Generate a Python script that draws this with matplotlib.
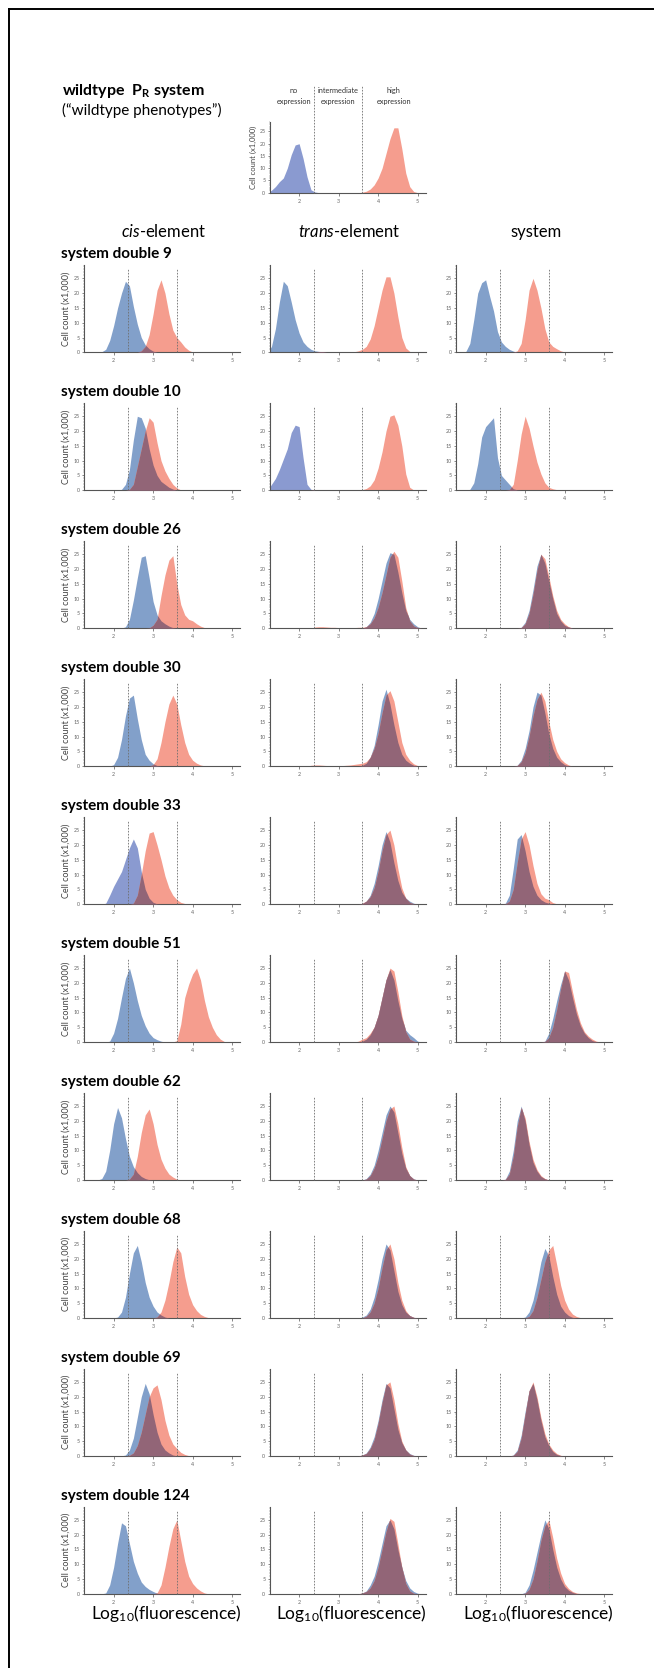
import numpy as np
import matplotlib
matplotlib.use("Agg")
import matplotlib.pyplot as plt
from matplotlib.lines import Line2D
from matplotlib.ticker import MultipleLocator

plt.rcParams['font.family'] = ['Lato', 'DejaVu Sans']
plt.rcParams['mathtext.fontset'] = 'custom'
plt.rcParams['mathtext.rm'] = 'Lato'
plt.rcParams['mathtext.it'] = 'Lato:italic'
plt.rcParams['mathtext.bf'] = 'Lato:bold'

# ---------------------------------------------------------------------------
# Data: cell counts (x1,000) per 0.1-wide log10(fluorescence) bin.
# Each entry is (centre of first bin, [counts ...]).
# ---------------------------------------------------------------------------
row_labels = ["system double 9", "system double 10", "system double 26",
              "system double 30", "system double 33", "system double 51",
              "system double 62", "system double 68", "system double 69",
              "system double 124"]
column_titles = [r"$\mathit{cis}$-element", r"$\mathit{trans}$-element", "system"]
x_ticks = [2, 3, 4, 5]
y_ticks = [0, 5, 10, 15, 20, 25]
boundaries = [2.37, 3.6]
expression_classes = [("no", "expression", 1.86),
                      ("intermediate", "expression", 2.98),
                      ("high", "expression", 4.4)]

wt_blue = (1.3, [1, 2.5, 4.5, 6, 10, 15.5, 19.5, 20, 14, 6.5, 1.2, 0.3])
wt_red = (3.6, [0.2, 0.6, 1.5, 3.2, 6, 10, 16, 22, 26.5, 26.5, 18, 8, 2.5, 0.5])

cis_blue = [
    (1.7, [0.2, 1, 4, 9, 15, 20, 24, 22.5, 15.5, 9.5, 5, 2.5, 1.2, 0.4]),
    (2.2, [0.3, 2, 7, 17, 25, 24.5, 21, 14, 8.5, 5, 3, 2, 1, 0.4]),
    (2.3, [0.5, 3, 9.5, 17, 24, 24.5, 17, 9, 4.5, 2.5, 1.5, 0.7, 0.2]),
    (2.0, [0.5, 3, 9, 17, 23, 24, 16, 9, 4, 2, 0.8, 0.2]),
    (1.8, [0.3, 3, 6, 8.5, 11, 15, 19, 22, 19, 11, 5, 2, 0.6, 0.1]),
    (1.9, [0.3, 3, 8, 15, 21.5, 25, 20, 14, 9, 5.5, 3, 1.5, 0.8, 0.3]),
    (1.7, [0.5, 3, 10, 19, 24.5, 21, 14, 8, 4.5, 2.5, 1.2, 0.5, 0.1]),
    (2.1, [0.3, 2, 7, 15, 22, 24.5, 19, 12, 7, 4, 2, 1, 0.3]),
    (2.3, [0.3, 2, 6, 13, 20, 24.5, 21, 14, 8, 4, 2, 1, 0.3]),
    (1.8, [0.3, 3, 9, 17, 24, 23, 17, 11, 7, 4, 2.5, 1.5, 0.8, 0.2]),
]
cis_red = [
    (2.7, [0.5, 2, 6, 13, 21, 24.5, 20, 13, 7.5, 5, 3.5, 1.8, 0.7, 0.1]),
    (2.4, [0.3, 2, 8, 14, 20, 24.5, 23, 16, 10, 6.5, 4, 2, 0.8, 0.1]),
    (2.9, [0.1, 1, 3, 11, 18, 23, 24.5, 15, 8, 4.5, 3, 2.5, 1.5, 0.7, 0.2]),
    (3.0, [0.5, 2.5, 8, 15, 21, 24, 21, 14, 8, 4, 2, 1, 0.4, 0.1]),
    (2.5, [0.3, 3, 10, 18, 24, 24.5, 20, 15, 9.5, 5.5, 3, 1.5, 0.6, 0.2]),
    (3.6, [0.5, 6, 15, 19.5, 23, 25, 21, 14, 8.5, 5, 2.5, 1, 0.2]),
    (2.4, [0.3, 2, 8, 16, 22, 24, 19, 12, 7, 4, 2, 1, 0.3]),
    (3.1, [0.3, 2, 6, 12, 19, 24, 22, 14, 8, 4.5, 2.5, 1.2, 0.5, 0.1]),
    (2.4, [0.2, 1, 3.5, 8, 14, 20, 23, 24, 19, 12, 7, 4, 2.5, 1.2, 0.5, 0.1]),
    (3.1, [0.3, 3, 9, 16, 22, 25, 18, 11, 6, 3.5, 2, 1, 0.3]),
]
trans_blue = [
    (1.3, [2, 8, 17, 24, 22.5, 17, 11, 6.5, 3.5, 2, 1, 0.5, 0.3, 0.2]),
    (1.3, [2, 4, 7, 10.5, 14, 19.5, 22, 21.5, 11, 2, 0.3]),
    (3.7, [0.5, 2, 5, 10, 16, 22, 25.5, 25, 19, 12, 6, 3, 1.5, 0.5]),
    (3.6, [0.3, 1, 3, 7, 14, 22, 26, 21, 14, 8, 4, 2, 1, 0.3]),
    (3.6, [0.2, 1, 3, 7, 13, 20, 24.5, 21, 14, 8, 4, 2, 1, 0.3]),
    (3.6, [0.3, 1, 2.5, 5, 9, 15, 21, 24.5, 21, 14, 8, 4, 2.5, 1.5, 0.3]),
    (3.7, [0.5, 2, 5, 10, 16, 22, 25, 23, 16, 9, 4, 1.5, 0.4]),
    (3.6, [0.3, 1, 3, 7, 13, 20, 25, 23, 16, 9, 4.5, 2, 0.8, 0.2]),
    (3.6, [0.3, 1, 3, 6.5, 12, 19, 24.5, 23, 16, 9, 4.5, 2, 0.8, 0.2]),
    (3.6, [0.3, 1, 3, 6, 11, 17, 23, 25, 22, 15, 9, 4.5, 2, 0.8, 0.2]),
]
trans_red = [
    (2.5, [0.2, 0.2, 0.2, 0.2, 0.2, 0.2, 0.2, 0.2, 0.2, 0.2, 0.5, 1, 2, 4.5,
           9, 15, 21, 25.5, 25.5, 20, 12, 5, 1.5, 0.3]),
    (2.4, [0.2, 0.2, 0.2, 0.2, 0.2, 0.2, 0.2, 0.2, 0.2, 0.2, 0.2, 0.2, 0.2,
           0.6, 1.5, 3.5, 7.5, 13, 20, 25, 25.5, 22, 15, 5.5, 1, 0.1]),
    (2.4, [0.4, 0.5, 0.5, 0.4, 0.3, 0.3, 0.2, 0.2, 0.2, 0.2, 0.2, 0.3, 0.3,
           0.5, 1.5, 3.5, 7, 12, 18, 24, 26, 24, 16, 7, 2.5, 0.8, 0.2]),
    (2.3, [0.3, 0.4, 0.4, 0.3, 0.2, 0.2, 0.2, 0.2, 0.2, 0.3, 0.4, 0.6, 0.8,
           1, 1.5, 3, 6, 11, 18, 24, 25.5, 22, 15, 8, 4, 2, 0.8, 0.2]),
    (3.6, [0.3, 1, 2.5, 5.5, 11, 18, 23.5, 25, 20, 12, 5.5, 2, 0.6, 0.1]),
    (3.5, [0.3, 1, 1.5, 3, 5, 9, 15, 21, 25, 24, 17, 9, 3.5, 1, 0.3]),
    (3.7, [0.3, 1.5, 4, 8, 14, 20, 24, 25, 19, 11, 4.5, 1.5, 0.3]),
    (3.7, [0.6, 2, 5, 10, 17, 23, 25, 20, 12, 6, 2.5, 0.8, 0.2]),
    (3.6, [0.3, 0.8, 2.5, 5.5, 11, 18, 24, 25, 19, 11, 5, 2, 0.6, 0.1]),
    (3.6, [0.3, 0.8, 2, 4.5, 9, 15, 21, 25.5, 24.5, 17, 9, 3.5, 1, 0.2]),
]
system_blue = [
    (1.5, [0.3, 3, 11, 20, 23.5, 24.5, 19, 14, 7, 3.5, 2, 1, 0.4]),
    (1.6, [0.3, 2.5, 9, 18, 21.5, 23, 24.5, 11, 5, 3.5, 2, 0.5, 0.1]),
    (2.9, [0.3, 2, 6, 13, 21, 25, 22, 16, 10, 5, 2.5, 1, 0.4]),
    (2.8, [0.3, 2, 6, 12, 20, 25, 24, 18, 11, 6, 3, 1.5, 0.5, 0.1]),
    (2.5, [0.3, 3, 12, 22, 23.5, 18, 11, 6, 3, 1.5, 0.7, 0.3]),
    (3.5, [0.3, 3, 8, 14, 19.5, 24, 21, 15, 9.5, 5.5, 3, 1.5, 0.5, 0.1]),
    (2.5, [0.3, 3, 10, 20, 25, 20, 12, 6, 3, 1.2, 0.4]),
    (3.0, [0.3, 2, 6, 12, 19, 23.5, 21, 14, 8, 4, 2, 0.8, 0.2]),
    (2.7, [0.3, 2, 7, 15, 22, 24.5, 19, 12, 6.5, 3.5, 1.5, 0.5, 0.1]),
    (3.0, [0.5, 3, 8, 14, 20, 25, 22, 15, 9, 5, 2.5, 1.2, 0.5, 0.1]),
]
system_red = [
    (2.8, [0.5, 3, 11, 21, 25, 21, 15, 8, 3.5, 2, 1.2, 0.5, 0.1]),
    (2.6, [0.2, 2, 10, 19, 25, 21, 15, 9.5, 5.5, 2.5, 1, 0.5, 0.2]),
    (2.9, [0.2, 1.5, 5, 11.5, 19.5, 25, 23.5, 17.5, 11, 6, 3, 1.5, 0.5, 0.1]),
    (2.8, [0.2, 1.5, 4.5, 10, 17, 22.5, 25, 22, 15, 9, 5, 2.5, 1.2, 0.4]),
    (2.5, [0.1, 1, 5, 14, 22, 24.5, 20, 13, 7, 3.5, 2, 1.5, 0.5, 0.1]),
    (3.5, [0.2, 1.5, 5, 11, 18, 24, 23.5, 17, 11, 6.5, 3.5, 2, 1, 0.3]),
    (2.5, [0.2, 2, 8, 18, 24.5, 21, 13, 7, 3.5, 1.5, 0.5]),
    (3.1, [0.5, 2.5, 7, 13, 19, 23, 24.5, 18, 11, 6, 3, 1.3, 0.5, 0.1]),
    (2.7, [0.2, 1.5, 6, 14, 22, 25, 20, 13, 7.5, 4, 2, 0.8, 0.2]),
    (3.0, [0.2, 1.5, 5, 11, 18, 23, 25, 19, 12, 7, 3.5, 1.8, 0.8, 0.3, 0.1]),
]

# ---------------------------------------------------------------------------
# Styling
# ---------------------------------------------------------------------------
STEEL = "#82a0ca"
PERI = "#8a9ad0"
RED = "#f59d8e"
OVERLAP = "#926577"
AXIS = "#555555"
blue_tone = [
    [STEEL, STEEL, STEEL],
    [STEEL, PERI, STEEL],
    [STEEL, STEEL, STEEL],
    [STEEL, STEEL, STEEL],
    [PERI, STEEL, STEEL],
    [STEEL, STEEL, STEEL],
    [STEEL, STEEL, STEEL],
    [STEEL, STEEL, STEEL],
    [STEEL, STEEL, STEEL],
    [STEEL, STEEL, STEEL],
]

W, H = 654, 1668
fig = plt.figure(figsize=(W / 100, H / 100), dpi=100)
fig.patch.set_facecolor("white")


def px_axes(left, top, width, height):
    return fig.add_axes([left / W, 1 - (top + height) / H, width / W, height / H])


def fy(y):
    return 1 - y / H


XF = np.linspace(1.0, 5.5, 1801)


def profile(series):
    start, vals = series
    xs = start + 0.1 * np.arange(len(vals))
    xs = np.concatenate([[start - 0.1], xs, [xs[-1] + 0.1]])
    ys = np.concatenate([[0.0], vals, [0.0]])
    return np.interp(XF, xs, ys, left=0, right=0)


def draw_pair(ax, blue, red, blue_color):
    yb = profile(blue)
    yr = profile(red)
    ax.fill_between(XF, yb, color=blue_color, lw=0, zorder=2)
    ax.fill_between(XF, yr, color=RED, lw=0, zorder=2)
    ax.fill_between(XF, np.minimum(yb, yr), color=OVERLAP, lw=0, zorder=3)


def style_axes(ax, ymax, dash_top):
    ax.set_xlim(1.25, 5.2)
    ax.set_ylim(0, ymax)
    ax.patch.set_alpha(0)
    for s in ("top", "right"):
        ax.spines[s].set_visible(False)
    for s in ("left", "bottom"):
        ax.spines[s].set_color(AXIS)
        ax.spines[s].set_linewidth(0.8)
    ax.set_xticks(x_ticks)
    ax.set_yticks(y_ticks)
    ax.yaxis.set_minor_locator(MultipleLocator(1))
    ax.tick_params(axis="both", which="major", labelsize=3.8, colors=AXIS,
                   labelcolor="#666666", length=1.8, width=0.5, pad=1.2)
    ax.tick_params(axis="x", pad=2.5)
    ax.tick_params(axis="y", which="minor", length=0.9, width=0.35, colors="#777777")
    for b in boundaries:
        ax.plot([b, b], [0, dash_top], ls=(0, (2.0, 1.6)), color="#6e6e6e",
                lw=0.6, zorder=6, clip_on=False)


# figure frame
fig.add_artist(Line2D([9 / W, 9 / W], [fy(9), 0], color="black", lw=1.4))
fig.add_artist(Line2D([9 / W, 1], [fy(9), fy(9)], color="black", lw=1.4))

# ---- wildtype reference panel ----
fig.text(62.5 / W, fy(91), r"wildtype  P$_\mathbf{R}$ system", fontsize=11.5,
         fontweight="bold", ha="left", va="center")
fig.text(62.5 / W, fy(110), "(\u201cwildtype phenotypes\u201d)", fontsize=11,
         ha="left", va="center")

wt_left, wt_base, wt_h = 269.5, 192.7, 71.0
ax_wt = px_axes(wt_left, wt_base - wt_h, 156, wt_h)
draw_pair(ax_wt, wt_blue, wt_red, PERI)
style_axes(ax_wt, 29.0, 43.5)
ax_wt.set_ylabel("Cell count (x1,000)", fontsize=5.5, color="#444444", labelpad=1.5)
for top_word, bottom_word, xc in expression_classes:
    ax_wt.text(xc, 41.8, top_word, fontsize=5.3, ha="center", va="center",
               color="#333333", clip_on=False)
    ax_wt.text(xc, 37.3, bottom_word, fontsize=5.3, ha="center", va="center",
               color="#333333", clip_on=False)

# ---- column headers ----
col_left = [84.0, 269.5, 456.0]
col_w = 156.0
for left, title in zip(col_left, column_titles):
    fig.text((left + col_w / 2 + 2) / W, fy(231.5), title, fontsize=12,
             ha="center", va="center")

# ---- grid of histograms ----
first_base, row_step, panel_h = 352.3, 137.95, 87.3
columns = [(cis_blue, cis_red), (trans_blue, trans_red), (system_blue, system_red)]
for i, label in enumerate(row_labels):
    base = first_base + i * row_step
    fig.text(60.7 / W, fy(base - 98), label, fontsize=11, fontweight="bold",
             ha="left", va="center")
    for j, (blues, reds) in enumerate(columns):
        ax = px_axes(col_left[j], base - panel_h, col_w, panel_h)
        draw_pair(ax, blues[i], reds[i], blue_tone[i][j])
        style_axes(ax, 29.5, 28.5)
        if j == 0:
            ax.set_ylabel("Cell count (x1,000)", fontsize=6.5, color="#444444",
                          labelpad=2)

# ---- x-axis titles ----
for left in col_left:
    fig.text((left + col_w / 2 + 4) / W, fy(1614), r"Log$_{10}$(fluorescence)",
             fontsize=12.5, ha="center", va="center")

fig.savefig("out.png", dpi=100, facecolor="white")
